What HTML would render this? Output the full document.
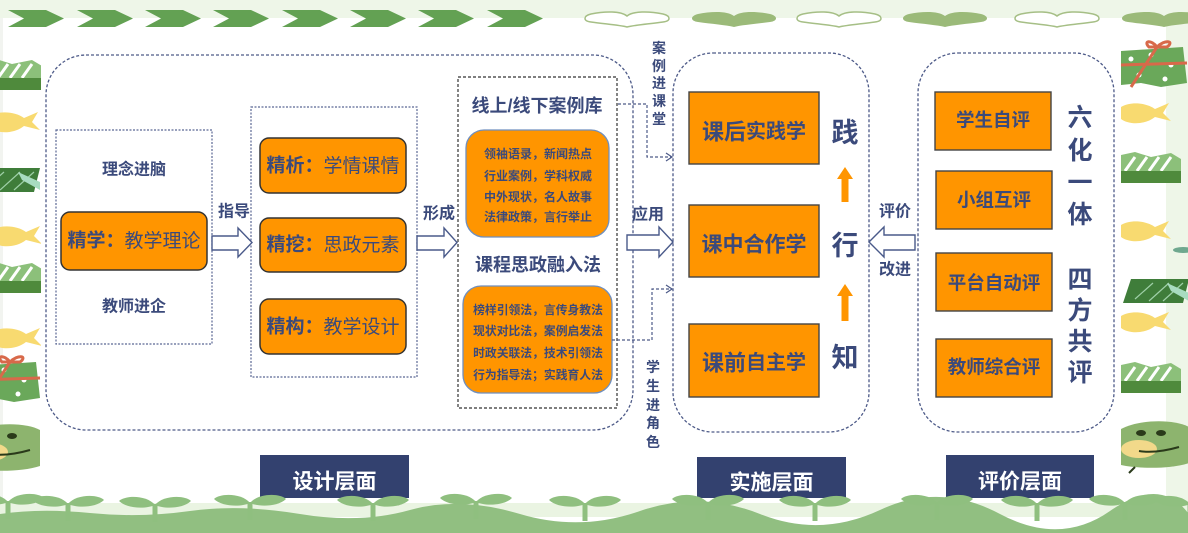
<!DOCTYPE html>
<html><head><meta charset="utf-8">
<style>
html,body{margin:0;padding:0;background:#fff;}
svg{display:block;}
text{font-family:"Liberation Sans","Noto Sans CJK SC",sans-serif;font-weight:700;fill:#3b4a7b;}
.w{fill:#fff;}
</style></head>
<body>
<svg width="1188" height="533" viewBox="0 0 1188 533" xmlns="http://www.w3.org/2000/svg">
<defs>
<path id="heart" d="M42,4 C36,-1 20,-1 6,2 C-2,4 -2,9 6,10 C20,12 34,13 42,15 C50,13 64,12 78,10 C86,9 86,4 78,2 C64,-1 48,-1 42,4 Z"/>
<path id="chev" d="M0,0 L38,0 L56,8.5 L38,17 L0,17 L16,8.5 Z"/>
<g id="sprout">
<path d="M0,2 L0,20" stroke="#8fbf7f" stroke-width="5"/>
<path d="M0,3 C-8,-7 -30,-7 -36,-1 C-28,7 -8,7 0,3 Z" fill="#8fbf7f"/>
<path d="M0,3 C8,-7 30,-7 36,-1 C28,7 8,7 0,3 Z" fill="#8fbf7f"/>
</g>
<g id="sgift">
<path d="M0,0 L14,-3 L30,2 L50,-2 L60,4 L60,16 L0,16 Z" fill="#8cc07a"/>
<path d="M4,16 L14,2 M16,16 L26,2 M28,16 L38,2 M40,16 L50,2" stroke="#fff" stroke-width="3"/>
<rect x="0" y="16" width="60" height="12" fill="#4f8a3c"/>
</g>
<g id="fish">
<path d="M0,4 C10,-2 26,0 34,6 L48,0 L42,10 L50,18 L34,14 C24,22 8,22 0,16 Z" fill="#f8da70"/>
</g>
<g id="rgift">
<path d="M0,8 L62,4 L66,40 L40,44 L20,40 L0,42 Z" fill="#6aa85a"/>
<circle cx="10" cy="16" r="2.5" fill="#fff"/><circle cx="30" cy="12" r="2.5" fill="#fff"/><circle cx="50" cy="22" r="2.5" fill="#fff"/><circle cx="18" cy="32" r="2.5" fill="#fff"/><circle cx="44" cy="36" r="2.5" fill="#fff"/>
<path d="M10,44 L36,4 M0,22 L66,20" stroke="#d8694a" stroke-width="3"/>
<path d="M36,4 C30,-4 22,-2 28,4 Z M36,4 C44,-4 54,-2 46,4 Z" fill="none" stroke="#d8694a" stroke-width="3"/>
</g>
<g id="dbox">
<path d="M8,0 L66,0 L60,24 L0,24 Z" fill="#3f7d3a"/>
<path d="M12,20 L30,4 M26,22 L46,4 M40,22 L60,4" stroke="#9fd0a8" stroke-width="1.2"/>
<path d="M44,4 L66,14 L66,22 L48,12 Z" fill="#a8dcc0"/>
</g>
<g id="frog">
<path d="M0,8 C18,-2 54,-2 68,6 L68,42 C50,48 18,48 0,44 Z" fill="#8db46e"/>
<ellipse cx="20" cy="12" rx="5" ry="3" fill="#2a3a1a"/>
<ellipse cx="40" cy="12" rx="5" ry="3" fill="#2a3a1a"/>
<ellipse cx="18" cy="28" rx="18" ry="9" fill="#f2d98a"/>
<path d="M18,30 C30,32 44,30 58,26" stroke="#2a3a1a" stroke-width="2" fill="none"/>
<path d="M14,46 L8,52" stroke="#2a3a1a" stroke-width="2"/>
</g>
</defs>

<!-- background bands -->
<rect x="0" y="0" width="1188" height="18" fill="#eef6e8"/>
<rect x="1166" y="18" width="22" height="490" fill="#eef6e8"/>
<rect x="0" y="18" width="3" height="490" fill="#f2f4f0"/>

<!-- top chevrons -->
<g fill="#63a153">
<use href="#chev" x="8" y="10"/><use href="#chev" x="77" y="10"/><use href="#chev" x="145" y="10"/><use href="#chev" x="213" y="10"/><use href="#chev" x="282" y="10"/><use href="#chev" x="350" y="10"/><use href="#chev" x="418" y="10"/><use href="#chev" x="487" y="10"/>
</g>
<!-- hearts -->
<use href="#heart" x="585" y="12" fill="#fff" stroke="#a6bf86" stroke-width="1.5"/>
<use href="#heart" x="692" y="12" fill="#9bba79"/>
<use href="#heart" x="797" y="12" fill="#fff" stroke="#a6bf86" stroke-width="1.5"/>
<use href="#heart" x="903" y="12" fill="#9bba79"/>
<use href="#heart" x="1015" y="12" fill="#fff" stroke="#a6bf86" stroke-width="1.5"/>
<use href="#heart" x="1122" y="12" fill="#9bba79"/>

<!-- left decorations -->
<svg x="0" y="0" width="41" height="533" overflow="hidden">
<use href="#sgift" x="-18" y="62"/>
<use href="#fish" x="-10" y="112"/>
<use href="#dbox" x="-26" y="168"/>
<use href="#fish" x="-8" y="226"/>
<use href="#sgift" x="-18" y="265"/>
<use href="#fish" x="-8" y="328"/>
<use href="#rgift" x="-26" y="358"/>
<use href="#frog" x="-28" y="424"/>
</svg>
<!-- right decorations -->
<svg x="1121" y="0" width="67" height="533" overflow="hidden">
<use href="#rgift" x="0" y="43"/>
<use href="#fish" x="0" y="103"/>
<use href="#sgift" x="0" y="155"/>
<use href="#fish" x="0" y="221"/>
<ellipse cx="62" cy="250" rx="10" ry="3" fill="#6fa88f"/>
<use href="#dbox" x="2" y="279"/>
<use href="#fish" x="0" y="312"/>
<use href="#sgift" x="0" y="365"/>
<use href="#frog" x="0" y="421"/>
</svg>

<!-- DESIGN section -->
<rect x="46" y="55" width="587" height="375" rx="40" fill="none" stroke="#4d5a88" stroke-width="1.3" stroke-dasharray="3 2"/>
<rect x="56" y="130" width="156" height="214" fill="none" stroke="#5b6794" stroke-width="1.2" stroke-dasharray="2 1.5"/>
<text x="134" y="170" font-size="16" text-anchor="middle" dominant-baseline="central">理念进脑</text>
<rect x="61" y="212" width="146" height="58" rx="9" fill="#ff9500" stroke="#333" stroke-width="1.5"/>
<text x="134" y="241" font-size="19" text-anchor="middle" dominant-baseline="central">精学：<tspan font-weight="400">教学理论</tspan></text>
<text x="134" y="307" font-size="16" text-anchor="middle" dominant-baseline="central">教师进企</text>

<rect x="251" y="107" width="166" height="270" fill="none" stroke="#5b6794" stroke-width="1.2" stroke-dasharray="2 1.5"/>
<rect x="260" y="138" width="146" height="55" rx="9" fill="#ff9500" stroke="#333" stroke-width="1.5"/>
<text x="333" y="166" font-size="19" text-anchor="middle" dominant-baseline="central">精析：<tspan font-weight="400">学情课情</tspan></text>
<rect x="260" y="218" width="146" height="54" rx="9" fill="#ff9500" stroke="#333" stroke-width="1.5"/>
<text x="333" y="245" font-size="19" text-anchor="middle" dominant-baseline="central">精挖：<tspan font-weight="400">思政元素</tspan></text>
<rect x="260" y="299" width="146" height="55" rx="9" fill="#ff9500" stroke="#333" stroke-width="1.5"/>
<text x="333" y="327" font-size="19" text-anchor="middle" dominant-baseline="central">精构：<tspan font-weight="400">教学设计</tspan></text>

<rect x="458" y="77" width="159" height="331" fill="none" stroke="#333" stroke-width="1.2" stroke-dasharray="3 2"/>
<text x="537" y="106" font-size="18" text-anchor="middle" dominant-baseline="central">线上/线下案例库</text>
<rect x="466" y="130" width="143" height="107" rx="18" fill="#ff9500" stroke="#6f8fbf" stroke-width="1.3"/>
<text x="538" y="154" font-size="12" text-anchor="middle" dominant-baseline="central">领袖语录，新闻热点</text>
<text x="538" y="176" font-size="12" text-anchor="middle" dominant-baseline="central">行业案例，学科权威</text>
<text x="538" y="197" font-size="12" text-anchor="middle" dominant-baseline="central">中外现状，名人故事</text>
<text x="538" y="217" font-size="12" text-anchor="middle" dominant-baseline="central">法律政策，言行举止</text>
<text x="538" y="265" font-size="18" text-anchor="middle" dominant-baseline="central">课程思政融入法</text>
<rect x="463" y="286" width="149" height="107" rx="18" fill="#ff9500" stroke="#6f8fbf" stroke-width="1.3"/>
<text x="538" y="310" font-size="11.8" text-anchor="middle" dominant-baseline="central">榜样引领法，言传身教法</text>
<text x="538" y="331" font-size="11.8" text-anchor="middle" dominant-baseline="central">现状对比法，案例启发法</text>
<text x="538" y="353" font-size="11.8" text-anchor="middle" dominant-baseline="central">时政关联法，技术引领法</text>
<text x="538" y="375" font-size="11.8" text-anchor="middle" dominant-baseline="central">行为指导法；实践育人法</text>

<!-- hollow arrows -->
<g fill="#fff" stroke="#4a5a8a" stroke-width="1.4" stroke-linejoin="miter">
<path d="M212,236 L238,236 L238,228 L252,242.5 L238,257 L238,250 L212,250 Z"/>
<path d="M417,236 L444,236 L444,228 L457,242.5 L444,257 L444,250 L417,250 Z"/>
<path d="M627,235 L659,235 L659,227 L673,242 L659,257 L659,250 L627,250 Z"/>
<path d="M915,235 L884,235 L884,227 L869,242 L884,257 L884,250 L915,250 Z"/>
</g>
<text x="234" y="212" font-size="16" text-anchor="middle" dominant-baseline="central">指导</text>
<text x="439" y="214" font-size="16" text-anchor="middle" dominant-baseline="central">形成</text>
<text x="648" y="215" font-size="16" text-anchor="middle" dominant-baseline="central">应用</text>
<text x="895" y="212" font-size="16" text-anchor="middle" dominant-baseline="central">评价</text>
<text x="895" y="270" font-size="16" text-anchor="middle" dominant-baseline="central">改进</text>

<!-- dashed connectors -->
<g fill="none" stroke="#4d5a88" stroke-width="1.2" stroke-dasharray="3 2">
<path d="M618,104 L647,104 L647,157 L672,157"/>
<path d="M612,340 L652,340 L652,289 L672,289"/>
</g>
<g fill="none" stroke="#4d5a88" stroke-width="1.2">
<path d="M666,153 L672,157 L666,161"/>
<path d="M666,285 L672,289 L666,293"/>
</g>
<text x="659" y="48" font-size="14" text-anchor="middle" dominant-baseline="central">案</text>
<text x="659" y="66" font-size="14" text-anchor="middle" dominant-baseline="central">例</text>
<text x="659" y="83" font-size="14" text-anchor="middle" dominant-baseline="central">进</text>
<text x="659" y="101" font-size="14" text-anchor="middle" dominant-baseline="central">课</text>
<text x="659" y="119" font-size="14" text-anchor="middle" dominant-baseline="central">堂</text>
<text x="653" y="367" font-size="14" text-anchor="middle" dominant-baseline="central">学</text>
<text x="653" y="386" font-size="14" text-anchor="middle" dominant-baseline="central">生</text>
<text x="653" y="405" font-size="14" text-anchor="middle" dominant-baseline="central">进</text>
<text x="653" y="423" font-size="14" text-anchor="middle" dominant-baseline="central">角</text>
<text x="653" y="442" font-size="14" text-anchor="middle" dominant-baseline="central">色</text>

<!-- IMPLEMENTATION -->
<rect x="673" y="53" width="196" height="379" rx="40" fill="none" stroke="#4d5a88" stroke-width="1.3" stroke-dasharray="3 2"/>
<rect x="689" y="92" width="130" height="72" fill="#ff9500" stroke="#444" stroke-width="1.4"/>
<text x="754" y="132" font-size="22" text-anchor="middle" dominant-baseline="central">课后<tspan font-size="20">实践学</tspan></text>
<rect x="689" y="205" width="130" height="72" fill="#ff9500" stroke="#444" stroke-width="1.4"/>
<text x="754" y="245" font-size="21" text-anchor="middle" dominant-baseline="central">课中合作学</text>
<rect x="689" y="324" width="130" height="73" fill="#ff9500" stroke="#444" stroke-width="1.4"/>
<text x="754" y="363" font-size="22" text-anchor="middle" dominant-baseline="central">课前<tspan font-size="20">自主学</tspan></text>
<text x="845" y="133" font-size="27" text-anchor="middle" dominant-baseline="central">践</text>
<text x="845" y="246" font-size="27" text-anchor="middle" dominant-baseline="central">行</text>
<text x="845" y="358" font-size="27" text-anchor="middle" dominant-baseline="central">知</text>
<path d="M845,167 L853,179 L848.5,179 L848.5,202 L841.5,202 L841.5,179 L837,179 Z" fill="#ff9500"/>
<path d="M845,284 L853,296 L848.5,296 L848.5,321 L841.5,321 L841.5,296 L837,296 Z" fill="#ff9500"/>

<!-- EVALUATION -->
<rect x="918" y="53" width="196" height="379" rx="40" fill="none" stroke="#4d5a88" stroke-width="1.3" stroke-dasharray="3 2"/>
<rect x="935" y="92" width="116" height="58" fill="#ff9500" stroke="#444" stroke-width="1.4"/>
<text x="993" y="120" font-size="18.5" text-anchor="middle" dominant-baseline="central">学生自评</text>
<rect x="936" y="171" width="116" height="58" fill="#ff9500" stroke="#444" stroke-width="1.4"/>
<text x="994" y="200" font-size="18.5" text-anchor="middle" dominant-baseline="central">小组互评</text>
<rect x="936" y="253" width="116" height="58" fill="#ff9500" stroke="#444" stroke-width="1.4"/>
<text x="994" y="283" font-size="18.5" text-anchor="middle" dominant-baseline="central">平台自动评</text>
<rect x="936" y="339" width="116" height="58" fill="#ff9500" stroke="#444" stroke-width="1.4"/>
<text x="994" y="367" font-size="18.5" text-anchor="middle" dominant-baseline="central">教师综合评</text>
<text x="1080" y="118" font-size="25" text-anchor="middle" dominant-baseline="central">六</text>
<text x="1080" y="151" font-size="25" text-anchor="middle" dominant-baseline="central">化</text>
<text x="1080" y="183" font-size="25" text-anchor="middle" dominant-baseline="central">一</text>
<text x="1080" y="215" font-size="25" text-anchor="middle" dominant-baseline="central">体</text>
<text x="1080" y="280" font-size="25" text-anchor="middle" dominant-baseline="central">四</text>
<text x="1080" y="311" font-size="25" text-anchor="middle" dominant-baseline="central">方</text>
<text x="1080" y="342" font-size="25" text-anchor="middle" dominant-baseline="central">共</text>
<text x="1080" y="373" font-size="25" text-anchor="middle" dominant-baseline="central">评</text>

<!-- bottom labels -->
<rect x="260" y="455" width="149" height="43" fill="#33416f"/>
<text x="334.5" y="482" font-size="21" text-anchor="middle" dominant-baseline="central" class="w">设计层面</text>
<rect x="697" y="457" width="149" height="41" fill="#33416f"/>
<text x="771.5" y="483" font-size="21" text-anchor="middle" dominant-baseline="central" class="w">实施层面</text>
<rect x="946" y="455" width="148" height="43" fill="#33416f"/>
<text x="1020" y="482" font-size="21" text-anchor="middle" dominant-baseline="central" class="w">评价层面</text>

<!-- bottom ground -->
<rect x="0" y="503" width="1188" height="14" fill="#eaf4e2"/>
<path d="M0,514 Q40,508 90,513 T190,511 T300,514 T410,510 T520,514 T640,511 T760,514 T880,510 T1000,514 T1110,511 T1188,513 L1188,533 L0,533 Z" fill="#91bf81"/>
<use href="#sprout" x="8" y="499"/><use href="#sprout" x="68" y="501"/><use href="#sprout" x="155" y="502"/><use href="#sprout" x="250" y="500"/><use href="#sprout" x="373" y="501"/><use href="#sprout" x="476" y="499"/><use href="#sprout" x="585" y="501"/><use href="#sprout" x="708" y="500"/><use href="#sprout" x="815" y="501"/><use href="#sprout" x="937" y="500"/><use href="#sprout" x="1037" y="501"/><use href="#sprout" x="1125" y="500"/><use href="#sprout" x="1190" y="501"/>
</svg>
</body></html>
